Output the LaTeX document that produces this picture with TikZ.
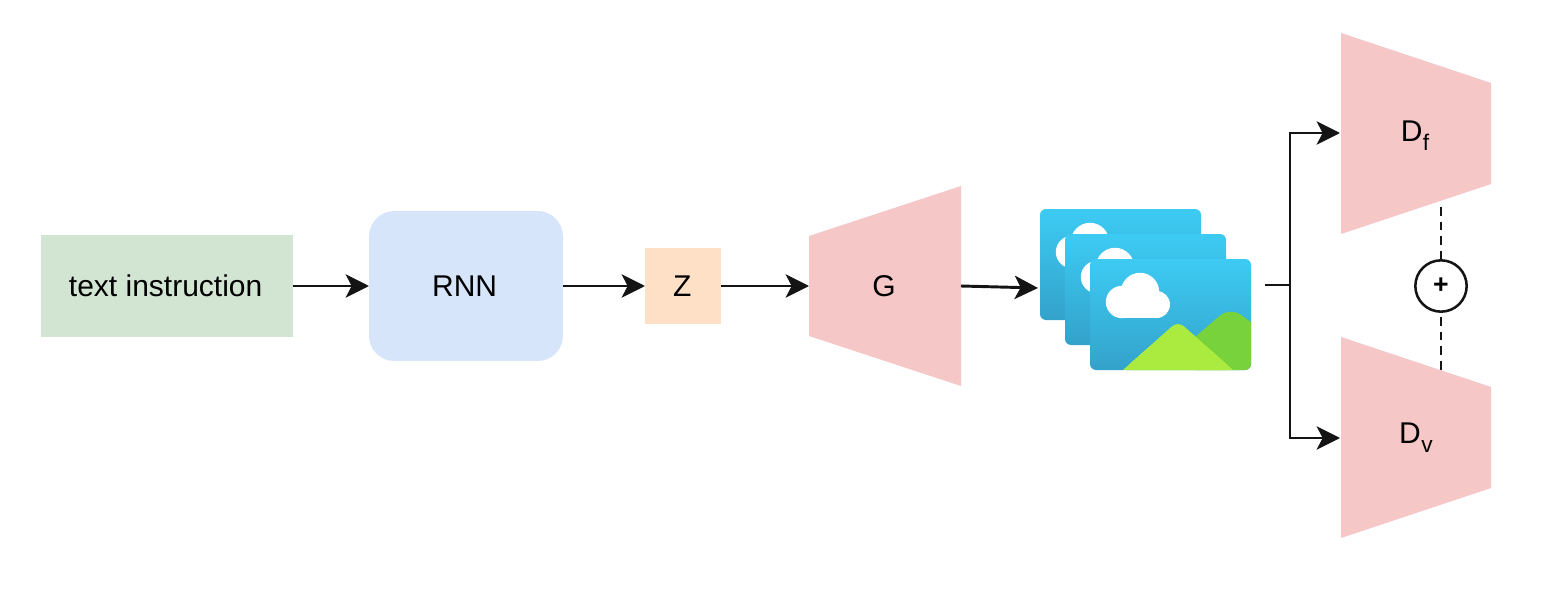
\documentclass[tikz,border=0pt]{standalone}
\usepackage{fontspec}
\setmainfont{Liberation Sans}
\usetikzlibrary{arrows.meta,positioning}
\definecolor{boxgreen}{HTML}{D2E5D2}
\definecolor{boxblue}{HTML}{D7E5FB}
\definecolor{boxorange}{HTML}{FDE0C6}
\definecolor{boxred}{HTML}{F5C7C7}
\definecolor{skytop}{HTML}{3DCBF3}
\definecolor{skybot}{HTML}{33A2CB}
\definecolor{hilllight}{HTML}{ABEB3F}
\definecolor{hilldark}{HTML}{78D23C}
\newcommand{\subD}[1]{D\kern0.4pt\raisebox{-6.5pt}{\fontsize{17}{17}\selectfont #1}}
\tikzset{
  x=0.75pt,y=-0.75pt,
  label text/.style={font=\fontsize{22.5}{26}\selectfont,text=black,inner sep=0pt},
  flat box/.style={anchor=north west,inner sep=0pt,outer sep=0pt,draw=none},
  wire/.style={line width=2.2pt,draw=black!92},
  flow/.style={wire,-{Stealth[length=17.5pt,width=17.5pt,inset=4.5pt]}},
  dash wire/.style={line width=2pt,draw=black!92,dash pattern=on 6.5pt off 4.5pt},
  trap/.style={fill=boxred,draw=none},
  pics/photo/.style={code={
    \shade[top color=skytop,middle color=skytop,bottom color=skybot,rounded corners=4.5pt]
      (0,0) rectangle (161,111);
    \fill[white] (32,43) circle[radius=16.2];
    \fill[white] (50,33) circle[radius=19.2];
    \fill[white] (66.5,45.5) circle[radius=13.5];
    \fill[white] (32,30) rectangle (66,59);
    \begin{scope}
      \clip[rounded corners=4.5pt] (0,0) rectangle (161,111);
      \fill[hilldark,rounded corners=10pt] (108,115) -- (98,84) -- (140,48) -- (176,74) -- (176,125) -- (108,125) -- cycle;
      \fill[hilllight,rounded corners=6pt] (33,111) -- (88,62) -- (143,111) -- cycle;
      \fill[hilllight] (33,111) -- (60,87) -- (116,87) -- (143,111) -- cycle;
    \end{scope}
  }}
}
\begin{document}
\begin{tikzpicture}
\useasboundingbox (0,0) rectangle (1550,592);
% boxes
\node[flat box,fill=boxgreen,minimum width=189pt,minimum height=76.5pt] (text) at (41,235) {};
\node[label text] at ([xshift=-1pt]text.center) {text instruction};
\node[flat box,fill=boxblue,rounded corners=19pt,minimum width=145.5pt,minimum height=112.5pt] (rnn) at (369,211) {};
\node[label text] at ([xshift=-1pt]rnn.center) {RNN};
\node[flat box,fill=boxorange,minimum width=57pt,minimum height=57pt] (z) at (645,248) {};
\node[label text] at ([xshift=-0.5pt]z.center) {Z};
% trapezoids
\fill[trap] (809,236) -- (961,186) -- (961,386) -- (809,336) -- cycle;
\fill[trap] (1341,33) -- (1491,83) -- (1491,184) -- (1341,234) -- cycle;
\fill[trap] (1341,337) -- (1491,387) -- (1491,488) -- (1341,538) -- cycle;
\node[label text] (g) at (884,286) {G};
\node[label text] (df) at (1415,136) {\subD{f}};
\node[label text] (dv) at (1416,438) {\subD{v}};
\coordinate (gin) at (809,286);
\coordinate (gout) at (961,286);
\coordinate (dfin) at (1340,133);
\coordinate (dvin) at (1340,438);
\coordinate (dfbot) at (1441,207);
\coordinate (dvtop) at (1441,371);
% images
\pic at (1040,209) {photo};
\pic at (1065,234) {photo};
\pic at (1090,259) {photo};
\coordinate (imgin) at (1038,288);
\coordinate (imgout) at (1265,285);
\coordinate (fork) at (1290,285);
% combine
\node[circle,draw=black!92,line width=1.9pt,fill=white,minimum size=38.5pt,inner sep=0pt,font=\fontsize{20}{20}\selectfont\bfseries] (plus) at (1441,286) {+};
% connectors
\draw[flow] (text.east |- 0,286) -- (rnn.west |- 0,286);
\draw[flow] (rnn.east |- 0,286) -- (z.west |- 0,286);
\draw[flow] (z.east |- 0,286) -- (gin);
\draw[flow] (gout) -- (imgin);
\draw[wire] (imgout) -- (fork);
\draw[flow] (fork) |- (dfin);
\draw[flow] (fork) |- (dvin);
\draw[dash wire] (dfbot) -- (plus.north);
\draw[dash wire] (plus.south) ++(0,4) -- (dvtop);
\end{tikzpicture}
\end{document}
